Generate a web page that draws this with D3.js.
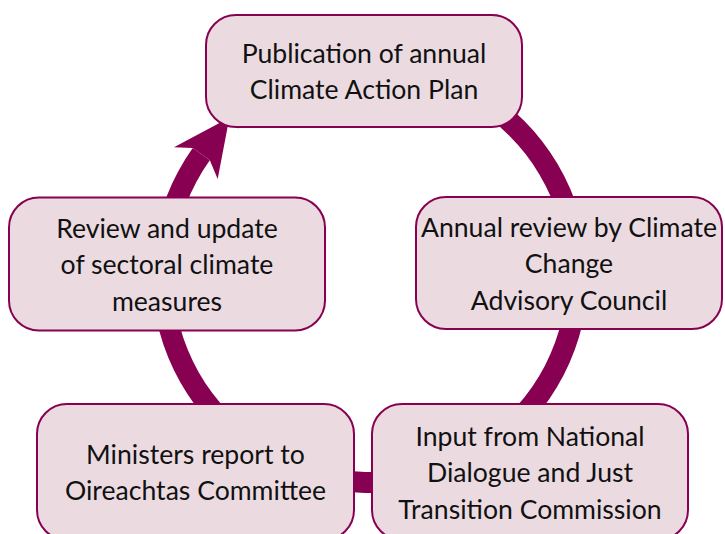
<!DOCTYPE html>
<html>
<head>
<meta charset="utf-8">
<script src="https://cdn.jsdelivr.net/npm/d3@7"></script>
<style>
  body { margin: 0; background: #fff; }
  svg { display: block; }
</style>
</head>
<body>
<div id="chart"></div>
<script>
// steps of the cycle, in order (clockwise), one entry per line of text
let steps = [
    ["Publication of annual", "Climate Action Plan"],
    ["Annual review by Climate", "Change", "Advisory Council"],
    ["Input from National", "Dialogue and Just", "Transition Commission"],
    ["Ministers report to", "Oireachtas Committee"],
    ["Review and update", "of sectoral climate", "measures"]
];

// where each box sits (centre, width, height)
let boxLayout = [
    { cx: 364, cy: 71, w: 316, h: 112 },
    { cx: 569, cy: 263, w: 306, h: 132 },
    { cx: 530, cy: 472, w: 316, h: 136 },
    { cx: 195.5, cy: 472, w: 317, h: 136 },
    { cx: 167, cy: 264, w: 316, h: 133 }
];

let width = 725, height = 534;
let ringColor = "#880051", boxFill = "#ebdbe1";
let center = { x: 370, y: 275 }, rIn = 197, rOut = 218;

let svg = d3.select("#chart")
    .append("svg")
    .attr("width", width)
    .attr("height", height);

let deg = d3.scaleLinear().domain([0, 360]).range([0, 2 * Math.PI]);

// ring behind the boxes (d3 angles are from 12 o'clock, clockwise)
let ring = d3.arc()
    .innerRadius(rIn)
    .outerRadius(rOut)
    .startAngle(deg(-42))
    .endAngle(deg(305.6));

svg.append("path")
    .attr("transform", "translate(" + center.x + "," + center.y + ")")
    .attr("d", ring())
    .attr("fill", ringColor);

// arrow head, screen angles measured from 3 o'clock
function polar(a, r) {
    return [center.x + r * Math.cos(deg(a)), center.y + r * Math.sin(deg(a))];
}
let head = [
    polar(-144.4, rOut),
    polar(-146.9, 234),
    polar(-131.8, 211),
    polar(-147.8, 180),
    polar(-144.4, rIn)
];
svg.append("path")
    .attr("d", d3.line()(head) + "Z")
    .attr("fill", ringColor);

// boxes
let g = svg.selectAll("g.step")
    .data(steps)
    .enter()
    .append("g")
    .attr("class", "step")
    .attr("transform", function (d, i) {
        return "translate(" + boxLayout[i].cx + "," + boxLayout[i].cy + ")";
    });

g.append("rect")
    .attr("x", function (d, i) { return -boxLayout[i].w / 2; })
    .attr("y", function (d, i) { return -boxLayout[i].h / 2; })
    .attr("width", function (d, i) { return boxLayout[i].w; })
    .attr("height", function (d, i) { return boxLayout[i].h; })
    .attr("rx", 30)
    .attr("fill", boxFill)
    .attr("stroke", ringColor)
    .attr("stroke-width", 2);

let lineH = 36.5;
g.append("text")
    .attr("text-anchor", "middle")
    .style("font-family", "Lato, 'Open Sans', sans-serif")
    .style("font-size", "26.6px")
    .attr("fill", "#111")
    .each(function (d) {
        let t = d3.select(this);
        let y0 = -(d.length - 1) * lineH / 2 + 10;
        d.forEach(function (line, j) {
            t.append("tspan")
                .attr("x", 0)
                .attr("y", y0 + j * lineH)
                .text(line);
        });
    });
</script>
</body>
</html>
